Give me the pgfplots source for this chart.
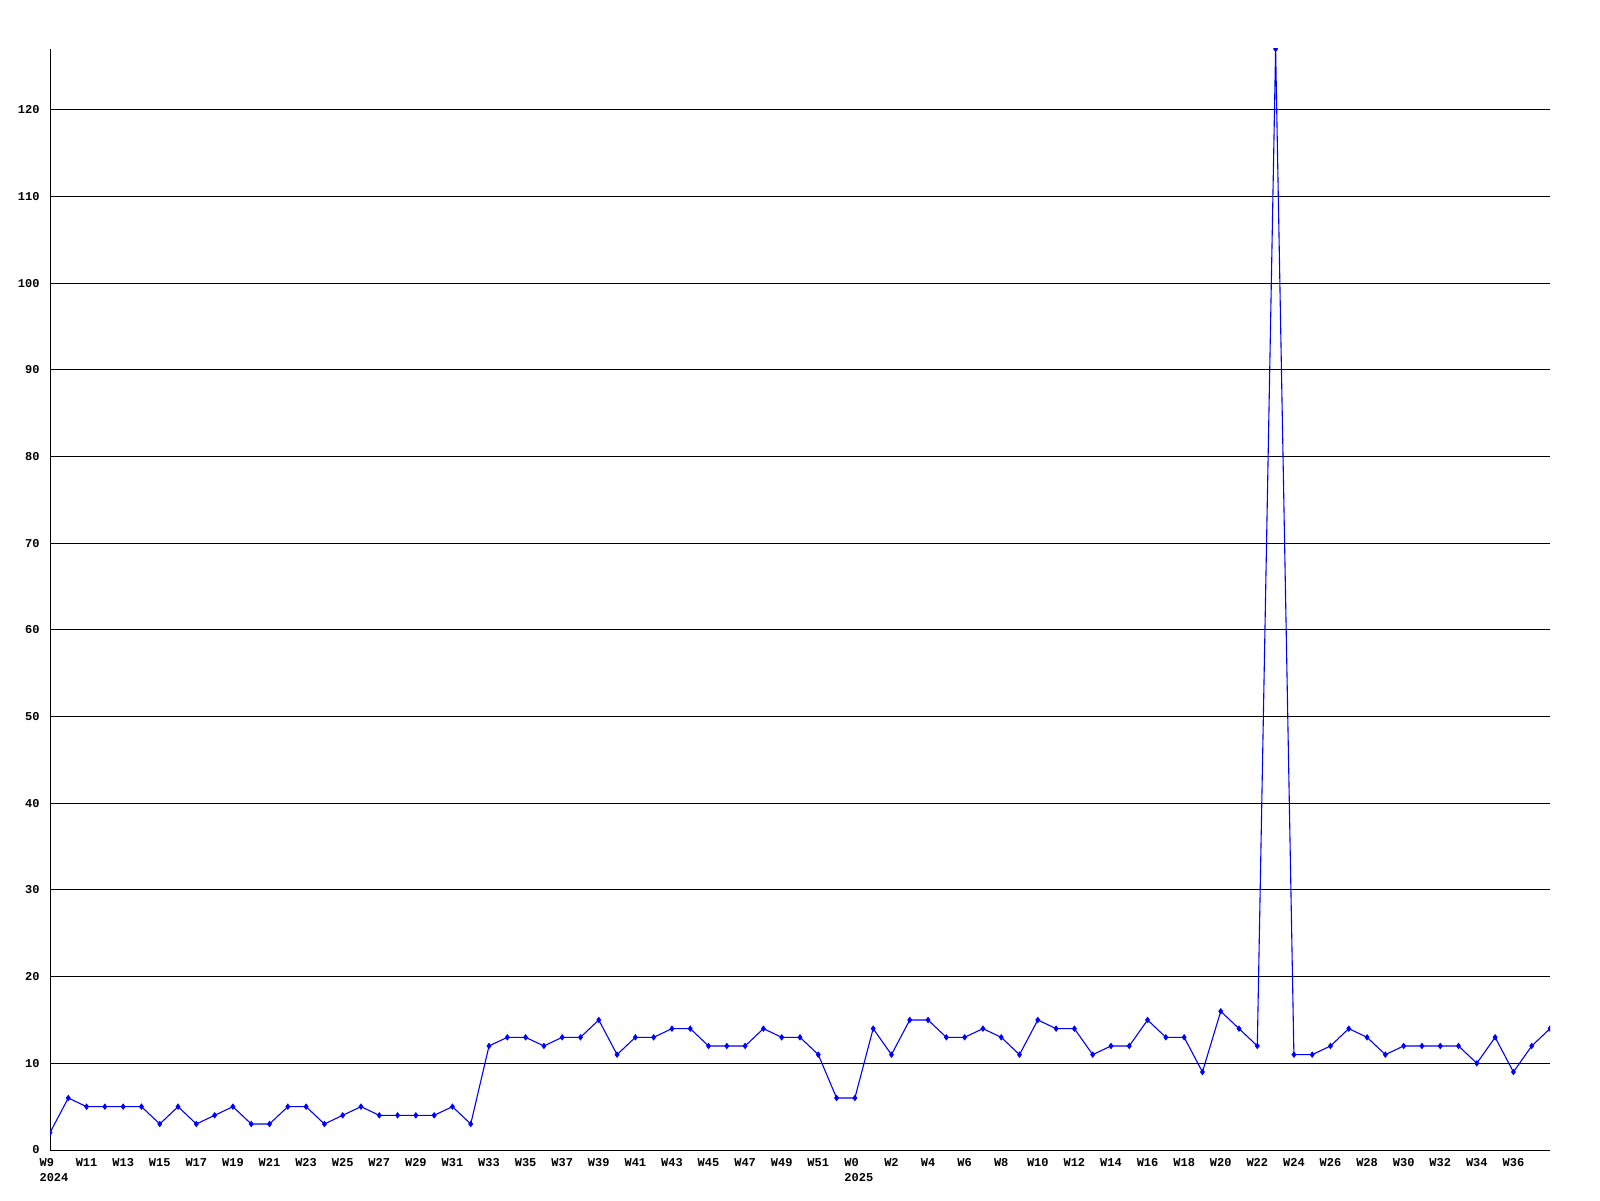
\documentclass[border=0pt]{standalone}
\usepackage{pgfplots}
\pgfplotsset{compat=1.18}
\usepackage{fontspec}
\setmainfont{Liberation Mono}
\definecolor{lineblue}{RGB}{0,0,255}
\begin{document}
\begin{tikzpicture}
\useasboundingbox (0,0) rectangle (800pt,600pt);
\begin{axis}[
  at={(25pt,25pt)}, anchor=south west,
  scale only axis, width=750pt, height=550.5pt,
  xmin=0, xmax=82, ymin=0, ymax=127,
  axis x line*=bottom, axis y line*=left,
  axis line style={black, line width=0.5pt, -},
  ytick={0,10,...,120},
  ymajorgrids, grid style={black, line width=0.5pt},
  major tick length=0pt,
  xtick={0,2,...,80},
  xticklabels={{\hspace*{4pt}W9\\\hspace*{4pt}2024},W11,W13,W15,W17,W19,W21,W23,W25,W27,W29,W31,W33,W35,W37,W39,W41,W43,W45,W47,W49,W51,{\hspace*{4pt}W0\\\hspace*{4pt}2025},W2,W4,W6,W8,W10,W12,W14,W16,W18,W20,W22,W24,W26,W28,W30,W32,W34,W36},
  xticklabel style={font=\fontsize{6}{7.5}\selectfont\bfseries, align=left, inner sep=0pt, yshift=-4pt},
  yticklabel style={font=\fontsize{6}{7.5}\selectfont\bfseries, inner sep=0pt, xshift=-5pt},
  /pgf/number format/assume math mode=true,
  clip marker paths=true,
]
\addplot[color=lineblue, line width=0.55pt, mark=diamond*, mark size=1.2pt, mark options={fill=lineblue, draw=lineblue}] coordinates {
(0,2)(1,6)(2,5)(3,5)(4,5)(5,5)(6,3)(7,5)(8,3)(9,4)(10,5)(11,3)(12,3)(13,5)(14,5)(15,3)(16,4)(17,5)(18,4)(19,4)(20,4)(21,4)(22,5)(23,3)
(24,12)(25,13)(26,13)(27,12)(28,13)(29,13)(30,15)(31,11)(32,13)(33,13)(34,14)(35,14)(36,12)(37,12)(38,12)(39,14)(40,13)(41,13)(42,11)(43,6)
(44,6)(45,14)(46,11)(47,15)(48,15)(49,13)(50,13)(51,14)(52,13)(53,11)(54,15)(55,14)(56,14)(57,11)(58,12)(59,12)(60,15)(61,13)(62,13)(63,9)
(64,16)(65,14)(66,12)(67,127)(68,11)(69,11)(70,12)(71,14)(72,13)(73,11)(74,12)(75,12)(76,12)(77,12)(78,10)(79,13)(80,9)(81,12)(82,14)
};
\end{axis}
\end{tikzpicture}
\end{document}
